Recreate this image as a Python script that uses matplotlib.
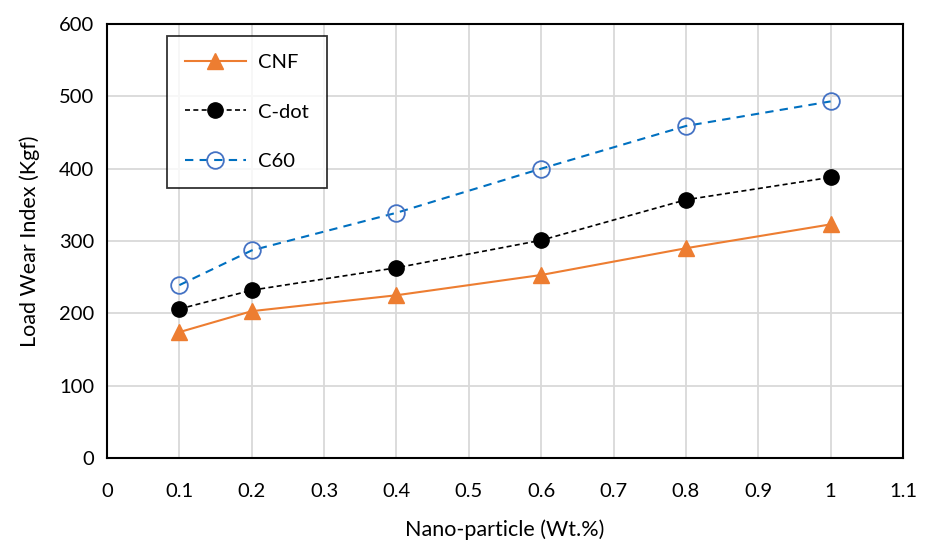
import matplotlib
matplotlib.use('Agg')
import matplotlib.pyplot as plt

x_wt = [0.1, 0.2, 0.4, 0.6, 0.8, 1.0]
cnf = [174, 203, 225, 253, 290, 323]
cdot = [206, 232, 263, 301, 357, 388]
c60 = [239, 287, 339, 400, 459, 493]

x_ticks = [0, 0.1, 0.2, 0.3, 0.4, 0.5, 0.6, 0.7, 0.8, 0.9, 1, 1.1]
x_labels = ['0', '0.1', '0.2', '0.3', '0.4', '0.5', '0.6', '0.7', '0.8', '0.9', '1', '1.1']
y_ticks = [0, 100, 200, 300, 400, 500, 600]

plt.rcParams['font.family'] = ['Lato', 'DejaVu Sans']

fig = plt.figure(figsize=(9.32, 5.4), dpi=100)
ax = fig.add_axes([107 / 932, 1 - 458 / 540, (903 - 107) / 932, (458 - 24) / 540])

ax.plot(x_wt, cnf, color='#ED7D31', lw=1.5, marker='^', ms=11,
        mfc='#ED7D31', mec='#ED7D31', label='CNF')
ax.plot(x_wt, cdot, color='black', lw=1.2, ls=(0, (3, 2)), marker='o', ms=11,
        mfc='black', mec='black', label='C-dot')
ax.plot(x_wt, c60, color='#0070C0', lw=1.5, ls=(0, (4, 3)), marker='o', ms=12,
        mfc='none', mec='#4472C4', mew=1.3, label='C60')

ax.set_xlim(0, 1.1)
ax.set_ylim(0, 600)
ax.set_xticks(x_ticks)
ax.set_xticklabels(x_labels)
ax.set_yticks(y_ticks)
ax.grid(True, color='#D9D9D9', lw=1.3)
ax.set_axisbelow(True)
ax.tick_params(length=0, labelsize=14.5, pad=18)
ax.tick_params(axis='y', pad=9)
for s in ax.spines.values():
    s.set_linewidth(1.5)
    s.set_color('black')

ax.set_xlabel('Nano-particle (Wt.%)', fontsize=15.5, labelpad=14)
ax.set_ylabel('Load Wear Index (Kgf)', fontsize=15.5, labelpad=14)

leg = ax.legend(loc='upper left', bbox_to_anchor=(60 / 796, 1 - 12 / 434),
                fontsize=14.5, frameon=True, fancybox=False, edgecolor='black',
                handlelength=3.0, handletextpad=0.6, labelspacing=1.6,
                borderpad=0.9, borderaxespad=0)
leg.get_frame().set_linewidth(1.3)

fig.savefig('out.png', dpi=100)
